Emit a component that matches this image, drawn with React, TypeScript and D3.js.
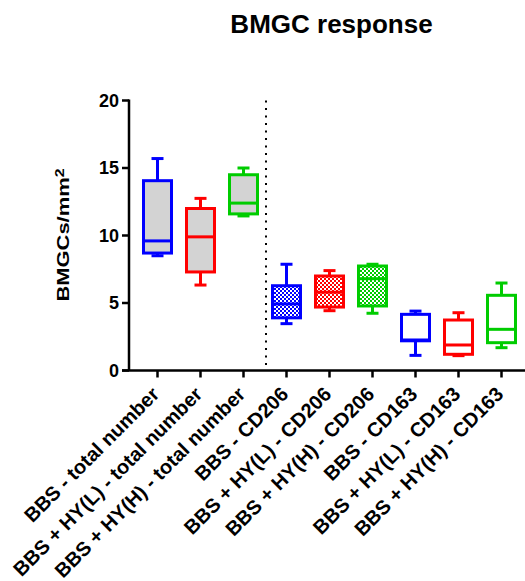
import React from "react";
import * as d3 from "d3";

const categories = [
  "BBS - total number",
  "BBS + HY(L) - total number",
  "BBS + HY(H) - total number",
  "BBS - CD206",
  "BBS + HY(L) - CD206",
  "BBS + HY(H) - CD206",
  "BBS - CD163",
  "BBS + HY(L) - CD163",
  "BBS + HY(H) - CD163",
];
const mins = [8.5, 6.33, 11.45, 3.47, 4.43, 4.24, 1.12, 1.1, 1.69];
const q1s = [8.7, 7.3, 11.6, 3.9, 4.7, 4.78, 2.2, 1.2, 2.06];
const medians = [9.6, 9.9, 12.4, 4.93, 5.8, 6.8, 2.26, 1.89, 3.05];
const q3s = [14.06, 12.0, 14.5, 6.28, 7.0, 7.74, 4.16, 3.74, 5.57];
const maxs = [15.7, 12.75, 15.0, 7.87, 7.4, 7.87, 4.4, 4.28, 6.48];
const colors = ["#0000ff", "#ff0000", "#00cc00", "#0000ff", "#ff0000", "#00cc00", "#0000ff", "#ff0000", "#00cc00"];
const fills = ["gray", "gray", "gray", "check", "check", "check", "none", "none", "none"];
const yTicks = [0, 5, 10, 15, 20];

export default function App() {
  const W = 525, H = 581;
  const x = d3.scalePoint<string>().domain(categories).range([157.5, 501.5]);
  const y = d3.scaleLinear().domain([0, 20]).range([370.5, 100.5]);
  const axisX = 129;
  const font = "'Liberation Sans', Arial, sans-serif";
  const boxW = 28, capW = 12, sw = 3;
  const divX = ((x(categories[2]) as number) + (x(categories[3]) as number)) / 2 + 1;

  return (
    <svg width={W} height={H} style={{ position: "absolute", left: 0, top: 0 }} fontFamily={font}>
      <defs>
        {["#0000ff", "#ff0000", "#00cc00"].map((c, i) => (
          <pattern key={i} id={`chk${i}`} patternUnits="userSpaceOnUse" width={4} height={4}>
            <rect width={4} height={4} fill={c} />
            <rect x={0} y={0} width={2} height={2} fill="#fff" />
            <rect x={2} y={2} width={2} height={2} fill="#fff" />
          </pattern>
        ))}
      </defs>
      <rect width={W} height={H} fill="#fff" />
      <text x={331.5} y={33} textAnchor="middle" fontSize={26} fontWeight="bold">BMGC response</text>

      {/* y axis */}
      <line x1={axisX} x2={axisX} y1={y(20) - 1} y2={y(0)} stroke="#000" strokeWidth={2.5} />
      {yTicks.map((t) => (
        <g key={t}>
          <line x1={axisX - 7} x2={axisX} y1={y(t)} y2={y(t)} stroke="#000" strokeWidth={2.5} />
          <text x={axisX - 10} y={y(t)} dy="0.36em" textAnchor="end" fontSize={18} fontWeight="bold">{t}</text>
        </g>
      ))}
      <text transform={`translate(68.5,235) rotate(-90) scale(1.33,1)`} textAnchor="middle" fontSize={16.5} fontWeight="bold">
        BMGCs/mm<tspan dy={-5} fontSize={12}>2</tspan>
      </text>

      {/* x axis */}
      <line x1={axisX - 7} x2={W} y1={y(0)} y2={y(0)} stroke="#000" strokeWidth={2.5} />
      {categories.map((c) => (
        <g key={c}>
          <line x1={x(c)} x2={x(c)} y1={y(0)} y2={y(0) + 7} stroke="#000" strokeWidth={2.5} />
          <text transform={`translate(${(x(c) as number) + 3},${y(0) + 25}) rotate(-45)`} textAnchor="end" fontSize={20} fontWeight="bold">{c}</text>
        </g>
      ))}

      {/* divider */}
      <line x1={divX} x2={divX} y1={y(20)} y2={y(0)} stroke="#000" strokeWidth={2} strokeDasharray="2,5.5" />

      {/* boxes */}
      {categories.map((c, i) => {
        const cx = x(c) as number;
        const col = colors[i];
        const fill = fills[i] === "gray" ? "#d3d3d3" : fills[i] === "check" ? `url(#chk${i % 3})` : "#fff";
        return (
          <g key={c} stroke={col} strokeWidth={sw} fill="none">
            <line x1={cx} x2={cx} y1={y(maxs[i])} y2={y(q3s[i])} />
            <line x1={cx} x2={cx} y1={y(q1s[i])} y2={y(mins[i])} />
            <line x1={cx - capW / 2} x2={cx + capW / 2} y1={y(maxs[i])} y2={y(maxs[i])} />
            <line x1={cx - capW / 2} x2={cx + capW / 2} y1={y(mins[i])} y2={y(mins[i])} />
            <rect x={cx - boxW / 2} y={y(q3s[i])} width={boxW} height={y(q1s[i]) - y(q3s[i])} fill={fill} />
            <line x1={cx - boxW / 2} x2={cx + boxW / 2} y1={y(medians[i])} y2={y(medians[i])} />
          </g>
        );
      })}
    </svg>
  );
}
